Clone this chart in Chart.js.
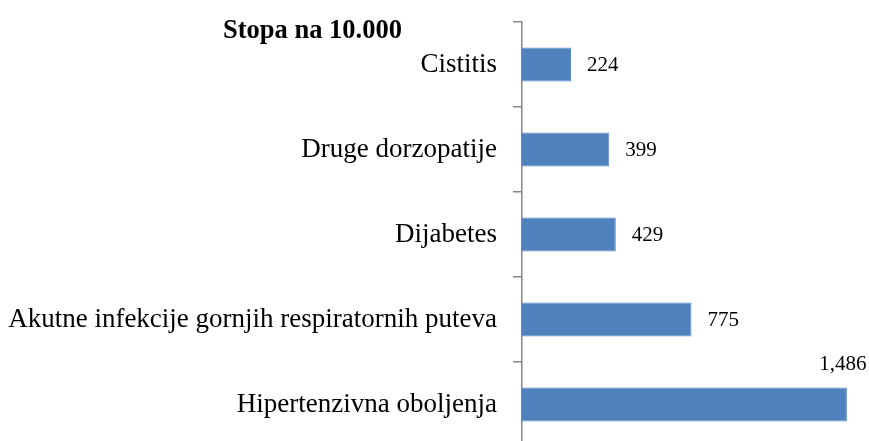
<!DOCTYPE html>
<html>
<head>
<meta charset="utf-8">
<script src="https://cdn.jsdelivr.net/npm/chart.js@4"></script>
<style>
  body { margin: 0; overflow: hidden; background: #fff; }
  #wrap { position: relative; width: 869px; height: 447px; }
  #naslov { position: absolute; left: 223px; top: 14px; font: bold 26.5px "Liberation Serif", serif; color: #000; line-height: 30px; }
</style>
</head>
<body>
<div id="wrap">
  <canvas id="myBarChart" width="869" height="447"></canvas>
  <div id="naslov">Stopa na 10.000</div>
</div>
<script>
// podaci
const kategorije = ["Cistitis", "Druge dorzopatije", "Dijabetes", "Akutne infekcije gornjih respiratornih puteva", "Hipertenzivna oboljenja"];
const stope = [224, 399, 429, 775, 1486];
const oznake = ["224", "399", "429", "775", "1,486"];

// oznake vrijednosti pored stubova
const vrijednostiPlugin = {
    id: 'vrijednosti',
    afterDatasetsDraw(chart) {
        const c = chart.ctx;
        const meta = chart.getDatasetMeta(0);
        c.save();
        c.font = '21px "Liberation Serif", serif';
        c.fillStyle = '#000';
        c.textBaseline = 'middle';
        meta.data.forEach((bar, i) => {
            if (i === meta.data.length - 1) {
                c.textAlign = 'center';
                c.fillText(oznake[i], bar.x - 4, bar.y - 40);
            } else {
                c.textAlign = 'left';
                c.fillText(oznake[i], bar.x + 16, bar.y + 1);
            }
        });
        c.restore();
    }
};

const ctx = document.getElementById("myBarChart").getContext("2d");
const myBarChart = new Chart(ctx, {
    type: 'bar',
    data: {
        labels: kategorije,
        datasets: [{
            data: stope,
            backgroundColor: '#4F81BD',
            borderColor: '#5B8CC6',
            borderWidth: 1,
            categoryPercentage: 1,
            barPercentage: 0.4
        }]
    },
    options: {
        indexAxis: 'y',
        responsive: false,
        animation: false,
        layout: { padding: { top: 22, right: 0, bottom: 0, left: 0 } },
        plugins: { legend: { display: false }, tooltip: { enabled: false } },
        scales: {
            x: { display: false, min: 0, max: 1587 },
            y: {
                afterFit(scale) {
                    scale.width = 522;
                    scale.paddingTop = 0;
                    scale.paddingBottom = 0;
                },
                grid: { drawOnChartArea: false, drawTicks: true, tickLength: 9, color: '#868686', lineWidth: 1.5 },
                border: { color: '#868686', width: 1.5 },
                ticks: { padding: 16, color: '#000', font: { family: '"Liberation Serif", serif', size: 27 } }
            }
        }
    },
    plugins: [vrijednostiPlugin]
});
</script>
</body>
</html>
